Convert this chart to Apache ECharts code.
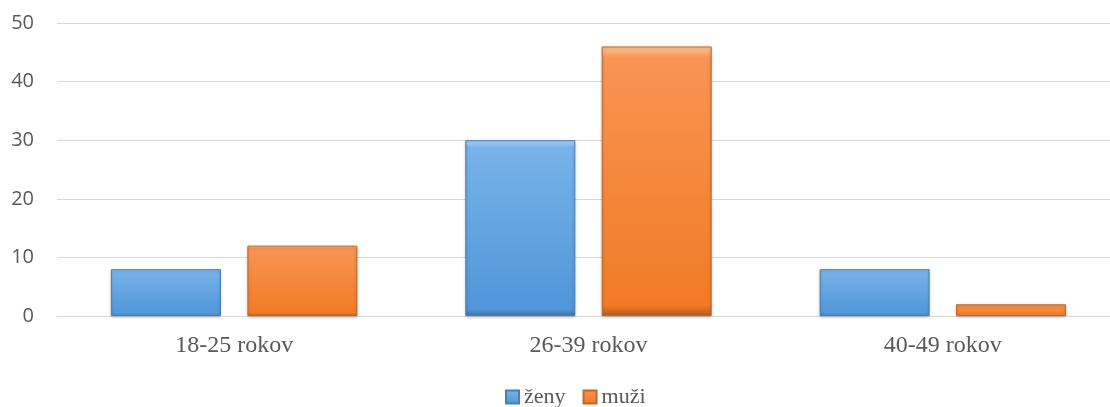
<!DOCTYPE html>
<html>
<head>
<meta charset="utf-8">
<script src="https://cdn.jsdelivr.net/npm/echarts@6/dist/echarts.min.js"></script>
<style>
  html, body { margin: 0; padding: 0; background: #fff; }
  #main { width: 1110px; height: 407px; }
</style>
</head>
<body>
<div id="main"></div>
<script>
var categories = ['18-25 rokov', '26-39 rokov', '40-49 rokov'];
var zeny = [8, 30, 8];
var muzi = [12, 46, 2];

// vertikalny gradient - svetlejsi horny okraj, tmavsi spodny (efekt skosenia)
function grad(light, top, bottom, dark) {
  return new echarts.graphic.LinearGradient(0, 0, 0, 1, [
    { offset: 0, color: light },
    { offset: 0.04, color: top },
    { offset: 0.96, color: bottom },
    { offset: 1, color: dark }
  ]);
}

var chart = echarts.init(document.getElementById('main'));

var option = {
  animation: false,
  grid: {
    left: 57,
    width: 1063,
    top: 23,
    bottom: 91,
    outerBoundsMode: 'none'
  },
  legend: {
    top: 386,
    left: 505,
    padding: 0,
    icon: 'rect',
    itemWidth: 13,
    itemHeight: 13,
    itemGap: 17,
    textStyle: {
      fontFamily: 'Liberation Serif',
      fontSize: 22,
      color: '#595959'
    },
    data: ['ženy', 'muži']
  },
  xAxis: {
    type: 'category',
    data: categories,
    axisTick: { show: false },
    axisLine: { lineStyle: { color: '#d9d9d9', width: 1 } },
    axisLabel: {
      margin: 18,
      fontFamily: 'Liberation Serif',
      fontSize: 24,
      color: '#595959'
    }
  },
  yAxis: {
    type: 'value',
    min: 0,
    max: 50,
    interval: 10,
    axisLine: { show: false },
    axisTick: { show: false },
    axisLabel: {
      margin: 23,
      fontFamily: 'Open Sans',
      fontSize: 20,
      color: '#595959'
    },
    splitLine: { lineStyle: { color: '#d9d9d9', width: 1 } }
  },
  series: [
    {
      name: 'ženy',
      type: 'bar',
      data: zeny,
      barWidth: 110,
      barGap: '24%',
      itemStyle: {
        color: grad('#b3dcf8', '#78b3e9', '#5096da', '#3e74a8'),
        borderColor: '#4a7fb3',
        borderWidth: 1,
        shadowColor: 'rgba(0,0,0,0.25)',
        shadowBlur: 3,
        shadowOffsetY: 1
      }
    },
    {
      name: 'muži',
      type: 'bar',
      data: muzi,
      barWidth: 110,
      itemStyle: {
        color: grad('#fdca9a', '#f99453', '#f17b25', '#b95b17'),
        borderColor: '#c0682a',
        borderWidth: 1,
        shadowColor: 'rgba(0,0,0,0.25)',
        shadowBlur: 3,
        shadowOffsetY: 1
      }
    }
  ]
};

chart.setOption(option);
</script>
</body>
</html>
